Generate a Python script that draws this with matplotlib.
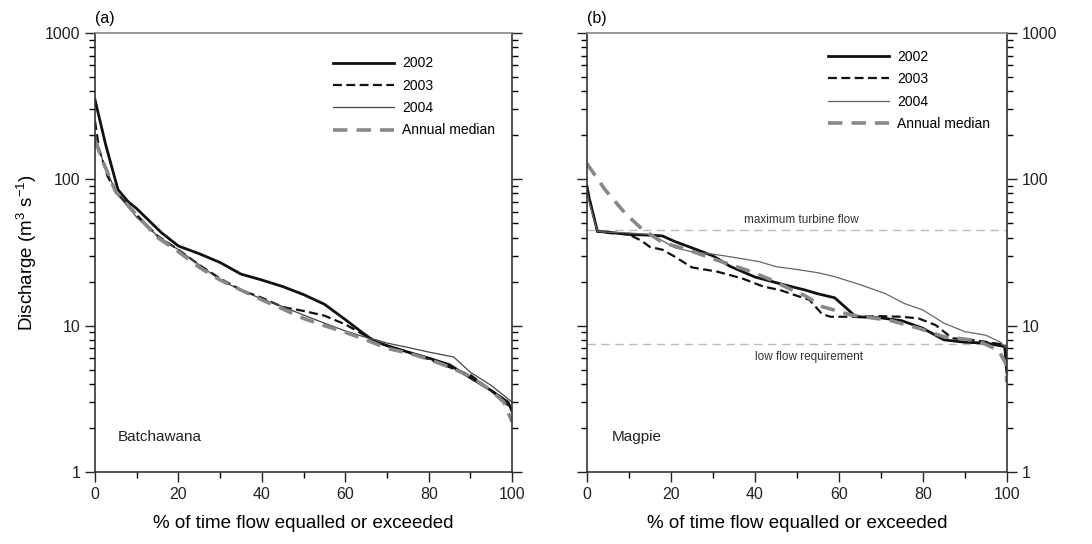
import matplotlib
matplotlib.use("Agg")
import matplotlib.pyplot as plt
from matplotlib.ticker import LogLocator, NullFormatter, FixedLocator

# (a) Batchawana - flow duration curves
bat_x_2002 = [0, 2.5, 5.5, 8, 10, 13, 16, 20, 25, 30, 35, 40, 45, 50, 55, 60, 64, 67, 70, 75, 80, 85, 90, 95, 99, 100]
bat_y_2002 = [350, 175, 85, 70, 63, 52, 43, 35, 31, 27, 22.5, 20.5, 18.5, 16.3, 14, 11, 9, 7.8, 7.3, 6.6, 6.0, 5.4, 4.4, 3.6, 3.0, 2.6]
bat_x_2003 = [0, 1, 3, 5, 10, 15, 20, 25, 30, 35, 40, 45, 50, 55, 60, 64, 67, 70, 75, 80, 85, 90, 95, 100]
bat_y_2003 = [250, 160, 105, 82, 57, 41, 33, 26, 21, 17.5, 15.5, 13.4, 12.6, 11.7, 10.2, 8.8, 7.9, 7.3, 6.6, 5.9, 5.2, 4.6, 3.6, 2.7]
bat_x_2004 = [0, 2, 5, 10, 15, 20, 25, 30, 35, 40, 45, 50, 55, 60, 65, 68, 70, 75, 80, 86, 90, 95, 100]
bat_y_2004 = [200, 130, 82, 55, 41, 33, 26, 20.5, 17.5, 15.2, 13.5, 11.8, 10.4, 9.2, 8.3, 7.9, 7.6, 7.1, 6.6, 6.1, 4.8, 3.9, 3.0]
bat_x_med = [0, 2, 5, 10, 15, 20, 25, 30, 35, 40, 45, 50, 55, 60, 65, 70, 75, 80, 85, 90, 95, 98, 100]
bat_y_med = [185, 130, 82, 57, 40, 32, 25, 20.5, 17.5, 15, 13, 11.2, 10.0, 9.0, 8.0, 7.0, 6.5, 5.9, 5.2, 4.5, 3.6, 3.0, 2.2]

# (b) Magpie
mag_x_2002 = [0, 0.5, 2.5, 5, 10, 15, 18, 21, 25, 30, 34, 40, 47, 52, 55, 59, 62, 64, 70, 75, 80, 85, 90, 95, 99.5, 100]
mag_y_2002 = [90, 75, 44, 43.5, 42, 41.5, 41, 37.5, 34, 30, 25.5, 21.5, 19, 17.5, 16.5, 15.5, 13, 11.5, 11.3, 10.8, 9.6, 8.0, 7.7, 7.6, 7.2, 4.8]
mag_x_2003 = [0, 0.5, 2.5, 5, 10, 13, 15, 18, 21, 25, 31, 37, 42, 46, 50, 53, 56, 58, 64, 70, 75, 79, 83, 87, 93, 99.5, 100]
mag_y_2003 = [88, 75, 44, 43, 42, 38, 34.5, 33, 29.5, 25, 23.4, 21, 18.5, 17.5, 16, 15, 12, 11.5, 11.5, 11.6, 11.5, 11.2, 10.1, 8.2, 7.9, 7.4, 5.0]
mag_x_2004 = [0, 0.5, 2.5, 5, 10, 15, 18, 21, 25, 30, 34, 41, 45, 50, 55, 59, 64, 71, 75.5, 80, 85, 90, 95, 98.5, 100]
mag_y_2004 = [85, 70, 44, 43.5, 43, 42, 38, 34, 32, 30.8, 29.6, 27.4, 25.3, 24.2, 23, 21.6, 19.5, 16.6, 14.2, 12.8, 10.4, 9.1, 8.6, 7.7, 7.0]
mag_x_med = [0, 4.3, 9, 13, 18, 24, 31, 38, 44, 48, 52, 56, 63, 72, 79, 85, 93, 98, 99.8, 100]
mag_y_med = [128, 85, 59, 46, 37, 33, 28, 24, 20.5, 18, 16, 13.5, 11.8, 10.9, 9.6, 8.4, 7.9, 6.8, 5.5, 4.1]

max_turbine_flow = 45
low_flow_req = 7.5

plt.rcParams['font.family'] = ['Liberation Sans', 'DejaVu Sans']

fig = plt.figure(figsize=(10.92, 5.44), dpi=100)
ax_a = fig.add_axes([0.087, 0.1324, 0.382, 0.807])
ax_b = fig.add_axes([0.5375, 0.1324, 0.3845, 0.807])


def style_axes(ax, labels_right=False):
    ax.set_yscale('log')
    ax.set_xlim(0, 100)
    ax.set_ylim(1, 1000)
    ax.set_xticks([0, 20, 40, 60, 80, 100])
    ax.xaxis.set_minor_locator(FixedLocator([10, 30, 50, 70, 90]))
    ax.yaxis.set_major_locator(LogLocator(base=10))
    ax.yaxis.set_minor_locator(LogLocator(base=10, subs=range(2, 10)))
    ax.yaxis.set_minor_formatter(NullFormatter())
    ax.set_yticks([1, 10, 100, 1000])
    ax.set_yticklabels(['1', '10', '100', '1000'])
    ax.tick_params(axis='both', which='major', direction='out', length=7,
                   width=1, labelsize=11.5, colors='#222')
    ax.tick_params(axis='both', which='minor', direction='out', length=4, width=1)
    ax.tick_params(axis='y', which='both', left=True, right=True,
                   labelleft=not labels_right, labelright=labels_right)
    ax.tick_params(axis='x', which='both', top=False)
    for s in ['left', 'right', 'bottom']:
        ax.spines[s].set_color('#333')
        ax.spines[s].set_linewidth(1.2)
    ax.spines['top'].set_color('#888')
    ax.spines['top'].set_linewidth(1.2)
    ax.set_xlabel('% of time flow equalled or exceeded', fontsize=13.5, labelpad=10)


def draw_curves(ax, x02, y02, x03, y03, x04, y04, xm, ym, c04, anchor_y):
    ax.plot(x02, y02, color='#111', lw=2.0, label='2002')
    ax.plot(x03, y03, color='#111', lw=1.6, ls=(0, (4, 2)), label='2003')
    ax.plot(x04, y04, color=c04, lw=0.9, label='2004')
    ax.plot(xm, ym, color='#888', lw=2.6, ls=(0, (4, 2.5)), label='Annual median')
    ax.legend(loc='upper right', bbox_to_anchor=(0.99, anchor_y), frameon=False,
              fontsize=10, handlelength=4.4, labelspacing=0.6, handletextpad=0.6)


style_axes(ax_a)
draw_curves(ax_a, bat_x_2002, bat_y_2002, bat_x_2003, bat_y_2003,
            bat_x_2004, bat_y_2004, bat_x_med, bat_y_med, '#444', 0.975)
ax_a.set_ylabel('Discharge (m$^\\mathregular{3}$ s$^\\mathregular{-1}$)', fontsize=13.5, labelpad=4)
ax_a.text(0.055, 0.07, 'Batchawana', transform=ax_a.transAxes, fontsize=11, color='#222')
ax_a.text(0.0, 1.015, '(a)', transform=ax_a.transAxes, fontsize=11.5, va='bottom')

style_axes(ax_b, labels_right=True)
ax_b.axhline(max_turbine_flow, color='#bbb', lw=1, ls=(0, (6, 4)), zorder=1)
ax_b.axhline(low_flow_req, color='#bbb', lw=1, ls=(0, (6, 4)), zorder=1)
draw_curves(ax_b, mag_x_2002, mag_y_2002, mag_x_2003, mag_y_2003,
            mag_x_2004, mag_y_2004, mag_x_med, mag_y_med, '#666', 0.99)
ax_b.text(51, max_turbine_flow * 1.07, 'maximum turbine flow', ha='center',
          va='bottom', fontsize=8.5, color='#333')
ax_b.text(53, low_flow_req * 0.9, 'low flow requirement', ha='center',
          va='top', fontsize=8.5, color='#333')
ax_b.text(0.06, 0.07, 'Magpie', transform=ax_b.transAxes, fontsize=11, color='#222')
ax_b.text(0.0, 1.015, '(b)', transform=ax_b.transAxes, fontsize=11.5, va='bottom')

fig.savefig('out.png', dpi=100)
